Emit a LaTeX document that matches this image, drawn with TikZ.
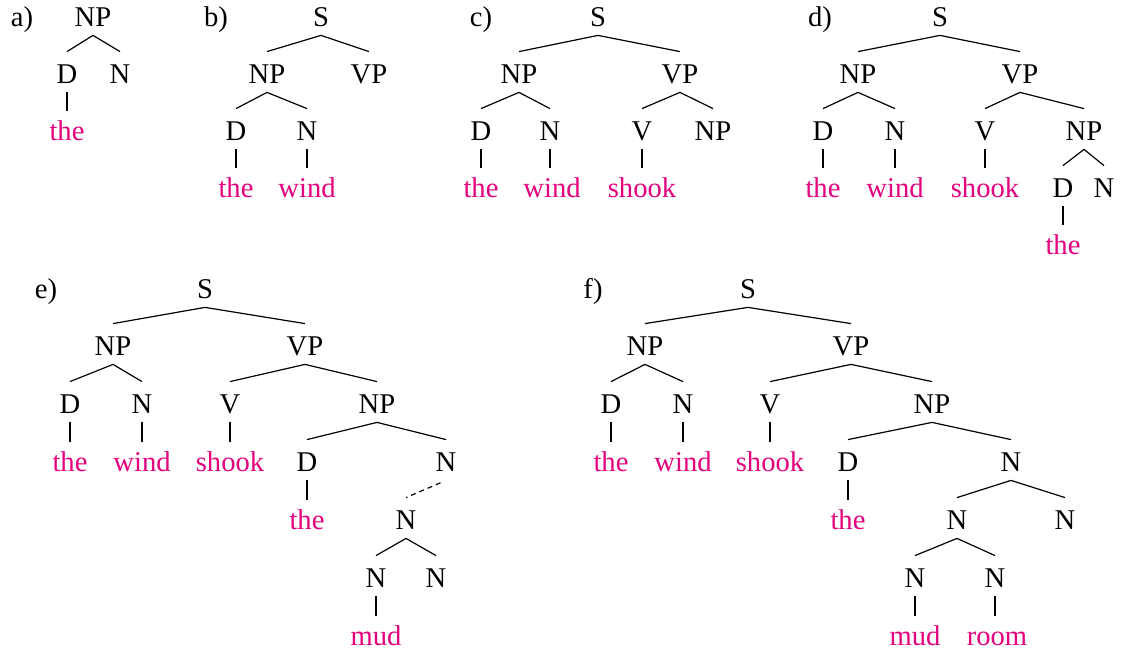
\documentclass[tikz,border=0pt]{standalone}
\usepackage{fontspec}
\setmainfont{Liberation Serif}
\newfontfamily\treefont{Liberation Serif}
\definecolor{wordC}{HTML}{E5007D}
\tikzset{
  cat/.style={anchor=base, inner sep=0pt, text height=16pt, text depth=4pt,
              font=\treefont\fontsize{14.3}{17}\selectfont},
  word/.style={cat, text=wordC},
  tag/.style={cat},
  branch/.style={line width=0.6pt},
  unary/.style={branch, shorten >=-1pt},
  elided/.style={branch, dash pattern=on 2.5pt off 2pt, shorten <=3pt},
}

\begin{document}
\begin{tikzpicture}[x=0.5pt, y=-0.5pt]
\useasboundingbox (0,0) rectangle (1121,657);

% a) the
\node[tag] (aLbl) at (22,27) {a)};
\node[cat] (aNP) at (93,27) {NP};
\node[cat] (aD) at (67,84) {D};
\node[cat] (aN) at (120,84) {N};
\node[word] (aThe) at (67,141) {the};
\foreach \c in {aD,aN} \draw[branch] (aNP.south) -- (\c.north);
\draw[unary] (aD.south) -- (aD.south |- aThe.north);

% b) the wind
\node[tag] (bLbl) at (216,27) {b)};
\node[cat] (bS) at (321,27) {S};
\node[cat] (bNP) at (267,84) {NP};
\node[cat] (bVP) at (369,84) {VP};
\node[cat] (bD) at (236,141) {D};
\node[cat] (bN) at (307,141) {N};
\node[word] (bThe) at (236,198) {the};
\node[word] (bWind) at (307,198) {wind};
\foreach \c in {bNP,bVP} \draw[branch] (bS.south) -- (\c.north);
\foreach \c in {bD,bN} \draw[branch] (bNP.south) -- (\c.north);
\draw[unary] (bD.south) -- (bD.south |- bThe.north);
\draw[unary] (bN.south) -- (bN.south |- bWind.north);

% c) the wind shook
\node[tag] (cLbl) at (481,27) {c)};
\node[cat] (cS) at (598,27) {S};
\node[cat] (cNP) at (519,84) {NP};
\node[cat] (cVP) at (680,84) {VP};
\node[cat] (cD) at (481,141) {D};
\node[cat] (cN) at (550,141) {N};
\node[cat] (cV) at (642,141) {V};
\node[cat] (cNP2) at (713,141) {NP};
\node[word] (cThe) at (481,198) {the};
\node[word] (cWind) at (552,198) {wind};
\node[word] (cShook) at (642,198) {shook};
\foreach \c in {cNP,cVP} \draw[branch] (cS.south) -- (\c.north);
\foreach \c in {cD,cN} \draw[branch] (cNP.south) -- (\c.north);
\foreach \c in {cV,cNP2} \draw[branch] (cVP.south) -- (\c.north);
\draw[unary] (cD.south) -- (cD.south |- cThe.north);
\draw[unary] (cN.south) -- (cN.south |- cWind.north);
\draw[unary] (cV.south) -- (cV.south |- cShook.north);

% d) the wind shook the
\node[tag] (dLbl) at (820,27) {d)};
\node[cat] (dS) at (940,27) {S};
\node[cat] (dNP) at (858,84) {NP};
\node[cat] (dVP) at (1020,84) {VP};
\node[cat] (dD) at (823,141) {D};
\node[cat] (dN) at (895,141) {N};
\node[cat] (dV) at (985,141) {V};
\node[cat] (dNP2) at (1084,141) {NP};
\node[word] (dThe) at (823,198) {the};
\node[word] (dWind) at (895,198) {wind};
\node[word] (dShook) at (985,198) {shook};
\node[cat] (dD2) at (1063,198) {D};
\node[cat] (dN2) at (1104,198) {N};
\node[word] (dThe2) at (1063,255) {the};
\foreach \c in {dNP,dVP} \draw[branch] (dS.south) -- (\c.north);
\foreach \c in {dD,dN} \draw[branch] (dNP.south) -- (\c.north);
\foreach \c in {dV,dNP2} \draw[branch] (dVP.south) -- (\c.north);
\foreach \c in {dD2,dN2} \draw[branch] (dNP2.south) -- (\c.north);
\draw[unary] (dD.south) -- (dD.south |- dThe.north);
\draw[unary] (dN.south) -- (dN.south |- dWind.north);
\draw[unary] (dV.south) -- (dV.south |- dShook.north);
\draw[unary] (dD2.south) -- (dD2.south |- dThe2.north);

% e) the wind shook the mud
\node[tag] (eLbl) at (46,299) {e)};
\node[cat] (eS) at (205,299) {S};
\node[cat] (eNP) at (113,356) {NP};
\node[cat] (eVP) at (305,356) {VP};
\node[cat] (eD) at (70,414) {D};
\node[cat] (eN) at (142,414) {N};
\node[cat] (eV) at (230,414) {V};
\node[cat] (eNP2) at (377,414) {NP};
\node[word] (eThe) at (70,472) {the};
\node[word] (eWind) at (142,472) {wind};
\node[word] (eShook) at (230,472) {shook};
\node[cat] (eD2) at (307,472) {D};
\node[cat] (eN2) at (446,472) {N};
\node[word] (eThe2) at (307,530) {the};
\node[cat] (eN3) at (406,530) {N};
\node[cat] (eN4) at (376,588) {N};
\node[cat] (eN5) at (436,588) {N};
\node[word] (eMud) at (376,646) {mud};
\foreach \c in {eNP,eVP} \draw[branch] (eS.south) -- (\c.north);
\foreach \c in {eD,eN} \draw[branch] (eNP.south) -- (\c.north);
\foreach \c in {eV,eNP2} \draw[branch] (eVP.south) -- (\c.north);
\foreach \c in {eD2,eN2} \draw[branch] (eNP2.south) -- (\c.north);
\foreach \c in {eN4,eN5} \draw[branch] (eN3.south) -- (\c.north);
\draw[elided] (eN2.south) -- (eN3.north);
\draw[unary] (eD.south) -- (eD.south |- eThe.north);
\draw[unary] (eN.south) -- (eN.south |- eWind.north);
\draw[unary] (eV.south) -- (eV.south |- eShook.north);
\draw[unary] (eD2.south) -- (eD2.south |- eThe2.north);
\draw[unary] (eN4.south) -- (eN4.south |- eMud.north);

% f) the wind shook the mud room
\node[tag] (fLbl) at (593,299) {f)};
\node[cat] (fS) at (748,299) {S};
\node[cat] (fNP) at (645,356) {NP};
\node[cat] (fVP) at (851,356) {VP};
\node[cat] (fD) at (611,414) {D};
\node[cat] (fN) at (683,414) {N};
\node[cat] (fV) at (770,414) {V};
\node[cat] (fNP2) at (932,414) {NP};
\node[word] (fThe) at (611,472) {the};
\node[word] (fWind) at (683,472) {wind};
\node[word] (fShook) at (770,472) {shook};
\node[cat] (fD2) at (848,472) {D};
\node[cat] (fN2) at (1011,472) {N};
\node[word] (fThe2) at (848,530) {the};
\node[cat] (fN3) at (957,530) {N};
\node[cat] (fN4) at (1065,530) {N};
\node[cat] (fN5) at (915,588) {N};
\node[cat] (fN6) at (995,588) {N};
\node[word] (fMud) at (915,646) {mud};
\node[word] (fRoom) at (997,646) {room};
\foreach \c in {fNP,fVP} \draw[branch] (fS.south) -- (\c.north);
\foreach \c in {fD,fN} \draw[branch] (fNP.south) -- (\c.north);
\foreach \c in {fV,fNP2} \draw[branch] (fVP.south) -- (\c.north);
\foreach \c in {fD2,fN2} \draw[branch] (fNP2.south) -- (\c.north);
\foreach \c in {fN3,fN4} \draw[branch] (fN2.south) -- (\c.north);
\foreach \c in {fN5,fN6} \draw[branch] (fN3.south) -- (\c.north);
\draw[unary] (fD.south) -- (fD.south |- fThe.north);
\draw[unary] (fN.south) -- (fN.south |- fWind.north);
\draw[unary] (fV.south) -- (fV.south |- fShook.north);
\draw[unary] (fD2.south) -- (fD2.south |- fThe2.north);
\draw[unary] (fN5.south) -- (fN5.south |- fMud.north);
\draw[unary] (fN6.south) -- (fN6.south |- fRoom.north);
\end{tikzpicture}
\end{document}
